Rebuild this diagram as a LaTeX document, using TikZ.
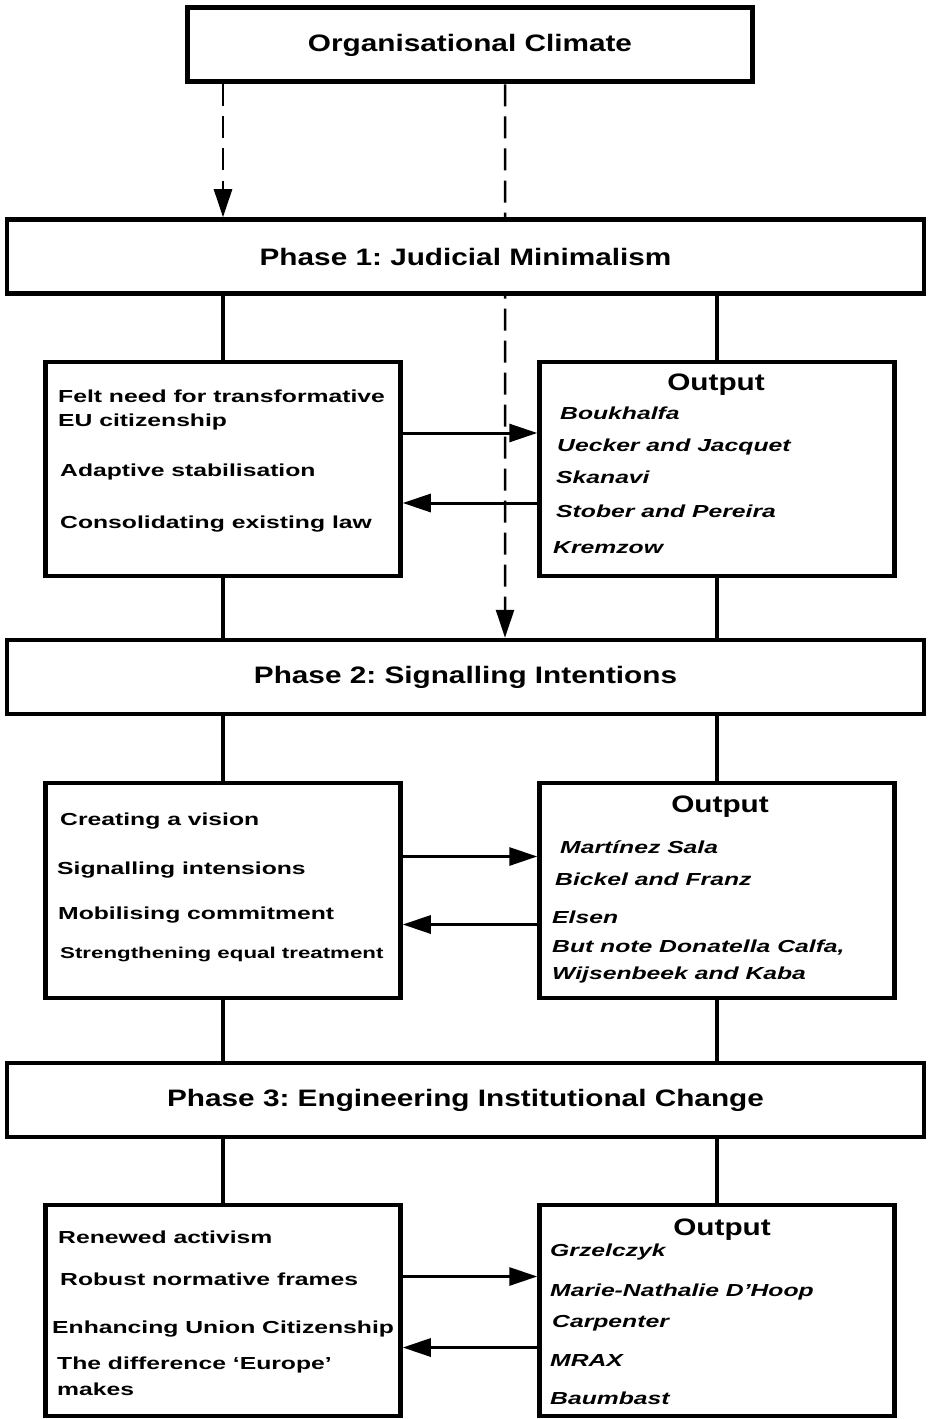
\documentclass[tikz,border=0pt]{standalone}
\usepackage{fontspec}
\newfontfamily\diafont{Liberation Sans}[FakeStretch=1.42]
\newfontfamily\headfont{Liberation Sans}[FakeStretch=1.25]
\usetikzlibrary{positioning}
\usetikzlibrary{arrows.meta}
\usetikzlibrary{backgrounds}
\frenchspacing

\begin{document}
\begin{tikzpicture}[x=1bp, y=-1bp,
			topbox/.style={draw, rectangle, line width=5bp, fill=white, inner sep=0pt, minimum width=565bp, minimum height=74bp, font=\headfont\bfseries\fontsize{23.8bp}{28bp}\selectfont},
			phase/.style={draw, rectangle, line width=4.5bp, fill=white, inner sep=0pt, minimum width=917bp, minimum height=74bp, font=\headfont\bfseries\fontsize{23.8bp}{28bp}\selectfont},
			panel/.style={draw, rectangle, line width=4.5bp, fill=white, inner sep=0pt, minimum width=355bp, minimum height=214bp},
			heading/.style={anchor=base, inner sep=0pt, font=\headfont\bfseries\fontsize{23.8bp}{28bp}\selectfont},
			item/.style={anchor=base west, inner sep=0pt, font=\diafont\bfseries\fontsize{17.4bp}{21bp}\selectfont},
			case/.style={item, font=\diafont\bfseries\itshape\fontsize{17.4bp}{21bp}\selectfont},
			link/.style={line width=3.5bp},
			arrow/.style={line width=3bp, -{Triangle[length=28bp, width=18bp]}},
			dasharrow/.style={line width=2.5bp, dash pattern=on 22bp off 10bp, -{Triangle[length=28bp, width=18bp]}}
			]
			\useasboundingbox (0,0) rectangle (927,1419);
			
			% Nodes
			\node[topbox] (climate) at (470,45) {Organisational Climate};
			\node[phase] (phase1) at (465.5,256.5) {Phase 1: Judicial Minimalism};
			\node[phase] (phase2) at (465.5,677) {Phase 2: Signalling Intentions};
			\node[phase] (phase3) at (465.5,1100) {Phase 3: Engineering Institutional Change};
			
			% Phase 1 panels
			\node[panel] (drivers1) at (223,469) {};
			\node[panel] (output1) at (717,469) {};
			\node[item] (need) at (58,402) {Felt need for transformative};
			\node[item] (euc) at (58,426) {EU citizenship};
			\node[item] (adapt) at (60,476) {Adaptive stabilisation};
			\node[item] (consol) at (60,528) {Consolidating existing law};
			\node[heading] (out1) at (716,390) {Output};
			\node[case] (boukhalfa) at (560,419) {Boukhalfa};
			\node[case] (uecker) at (557,451) {Uecker and Jacquet};
			\node[case] (skanavi) at (556,483) {Skanavi};
			\node[case] (stober) at (556,517) {Stober and Pereira};
			\node[case] (kremzow) at (553,553) {Kremzow};
			
			% Phase 2 panels
			\node[panel, minimum height=215bp] (drivers2) at (223,890.5) {};
			\node[panel, minimum height=215bp] (output2) at (717,890.5) {};
			\node[item] (vision) at (60,825) {Creating a vision};
			\node[item] (signal) at (57,874) {Signalling intensions};
			\node[item] (mobil) at (58,919) {Mobilising commitment};
			\node[item, font=\diafont\bfseries\fontsize{15.7bp}{19bp}\selectfont] (equal) at (60,958) {Strengthening equal treatment};
			\node[heading] (out2) at (720,812) {Output};
			\node[case] (sala) at (560,853) {Martínez Sala};
			\node[case] (bickel) at (555,885) {Bickel and Franz};
			\node[case] (elsen) at (552,923) {Elsen};
			\node[case] (calfa) at (552,952) {But note Donatella Calfa,};
			\node[case] (kaba) at (552,979) {Wijsenbeek and Kaba};
			
			% Phase 3 panels
			\node[panel, minimum height=211bp] (drivers3) at (223,1310.5) {};
			\node[panel, minimum height=211bp] (output3) at (717,1310.5) {};
			\node[item] (renewed) at (58,1243) {Renewed activism};
			\node[item] (robust) at (60,1285) {Robust normative frames};
			\node[item] (enhance) at (52,1333) {Enhancing Union Citizenship};
			\node[item] (diff) at (57,1369) {The difference ‘Europe’};
			\node[item] (makes) at (57,1395) {makes};
			\node[heading] (out3) at (722,1235) {Output};
			\node[case] (grzelczyk) at (550,1256) {Grzelczyk};
			\node[case] (dhoop) at (550,1296) {Marie-Nathalie D’Hoop};
			\node[case] (carpenter) at (552,1327) {Carpenter};
			\node[case] (mrax) at (550,1366) {MRAX};
			\node[case] (baumbast) at (550,1404) {Baumbast};
			
			% Dashed arrows
			\begin{scope}[on background layer]
			\draw[dasharrow] (climate.south -| drivers1.north) -- (phase1.north -| drivers1.north);
			\draw[dasharrow] ([xshift=35bp]climate.south) -- ([xshift=39.5bp]phase2.north);
			\end{scope}
			
			% Links
			\draw[link] (phase1.south -| drivers1.north) -- (drivers1.north);
			\draw[link] (phase1.south -| output1.north) -- (output1.north);
			\draw[link] (drivers1.south) -- (phase2.north -| drivers1.south);
			\draw[link] (output1.south) -- (phase2.north -| output1.south);
			\draw[link] (phase2.south -| drivers2.north) -- (drivers2.north);
			\draw[link] (phase2.south -| output2.north) -- (output2.north);
			\draw[link] (drivers2.south) -- (phase3.north -| drivers2.south);
			\draw[link] (output2.south) -- (phase3.north -| output2.south);
			\draw[link] (phase3.south -| drivers3.north) -- (drivers3.north);
			\draw[link] (phase3.south -| output3.north) -- (output3.north);
			
			% Arrows
			\draw[arrow] ([yshift=36bp]drivers1.east) -- ([yshift=36bp]output1.west);
			\draw[arrow] ([yshift=-34bp]output1.west) -- ([yshift=-34bp]drivers1.east);
			\draw[arrow] ([yshift=34bp]drivers2.east) -- ([yshift=34bp]output2.west);
			\draw[arrow] ([yshift=-34bp]output2.west) -- ([yshift=-34bp]drivers2.east);
			\draw[arrow] ([yshift=34bp]drivers3.east) -- ([yshift=34bp]output3.west);
			\draw[arrow] ([yshift=-37bp]output3.west) -- ([yshift=-37bp]drivers3.east);
		\end{tikzpicture}
\end{document}
